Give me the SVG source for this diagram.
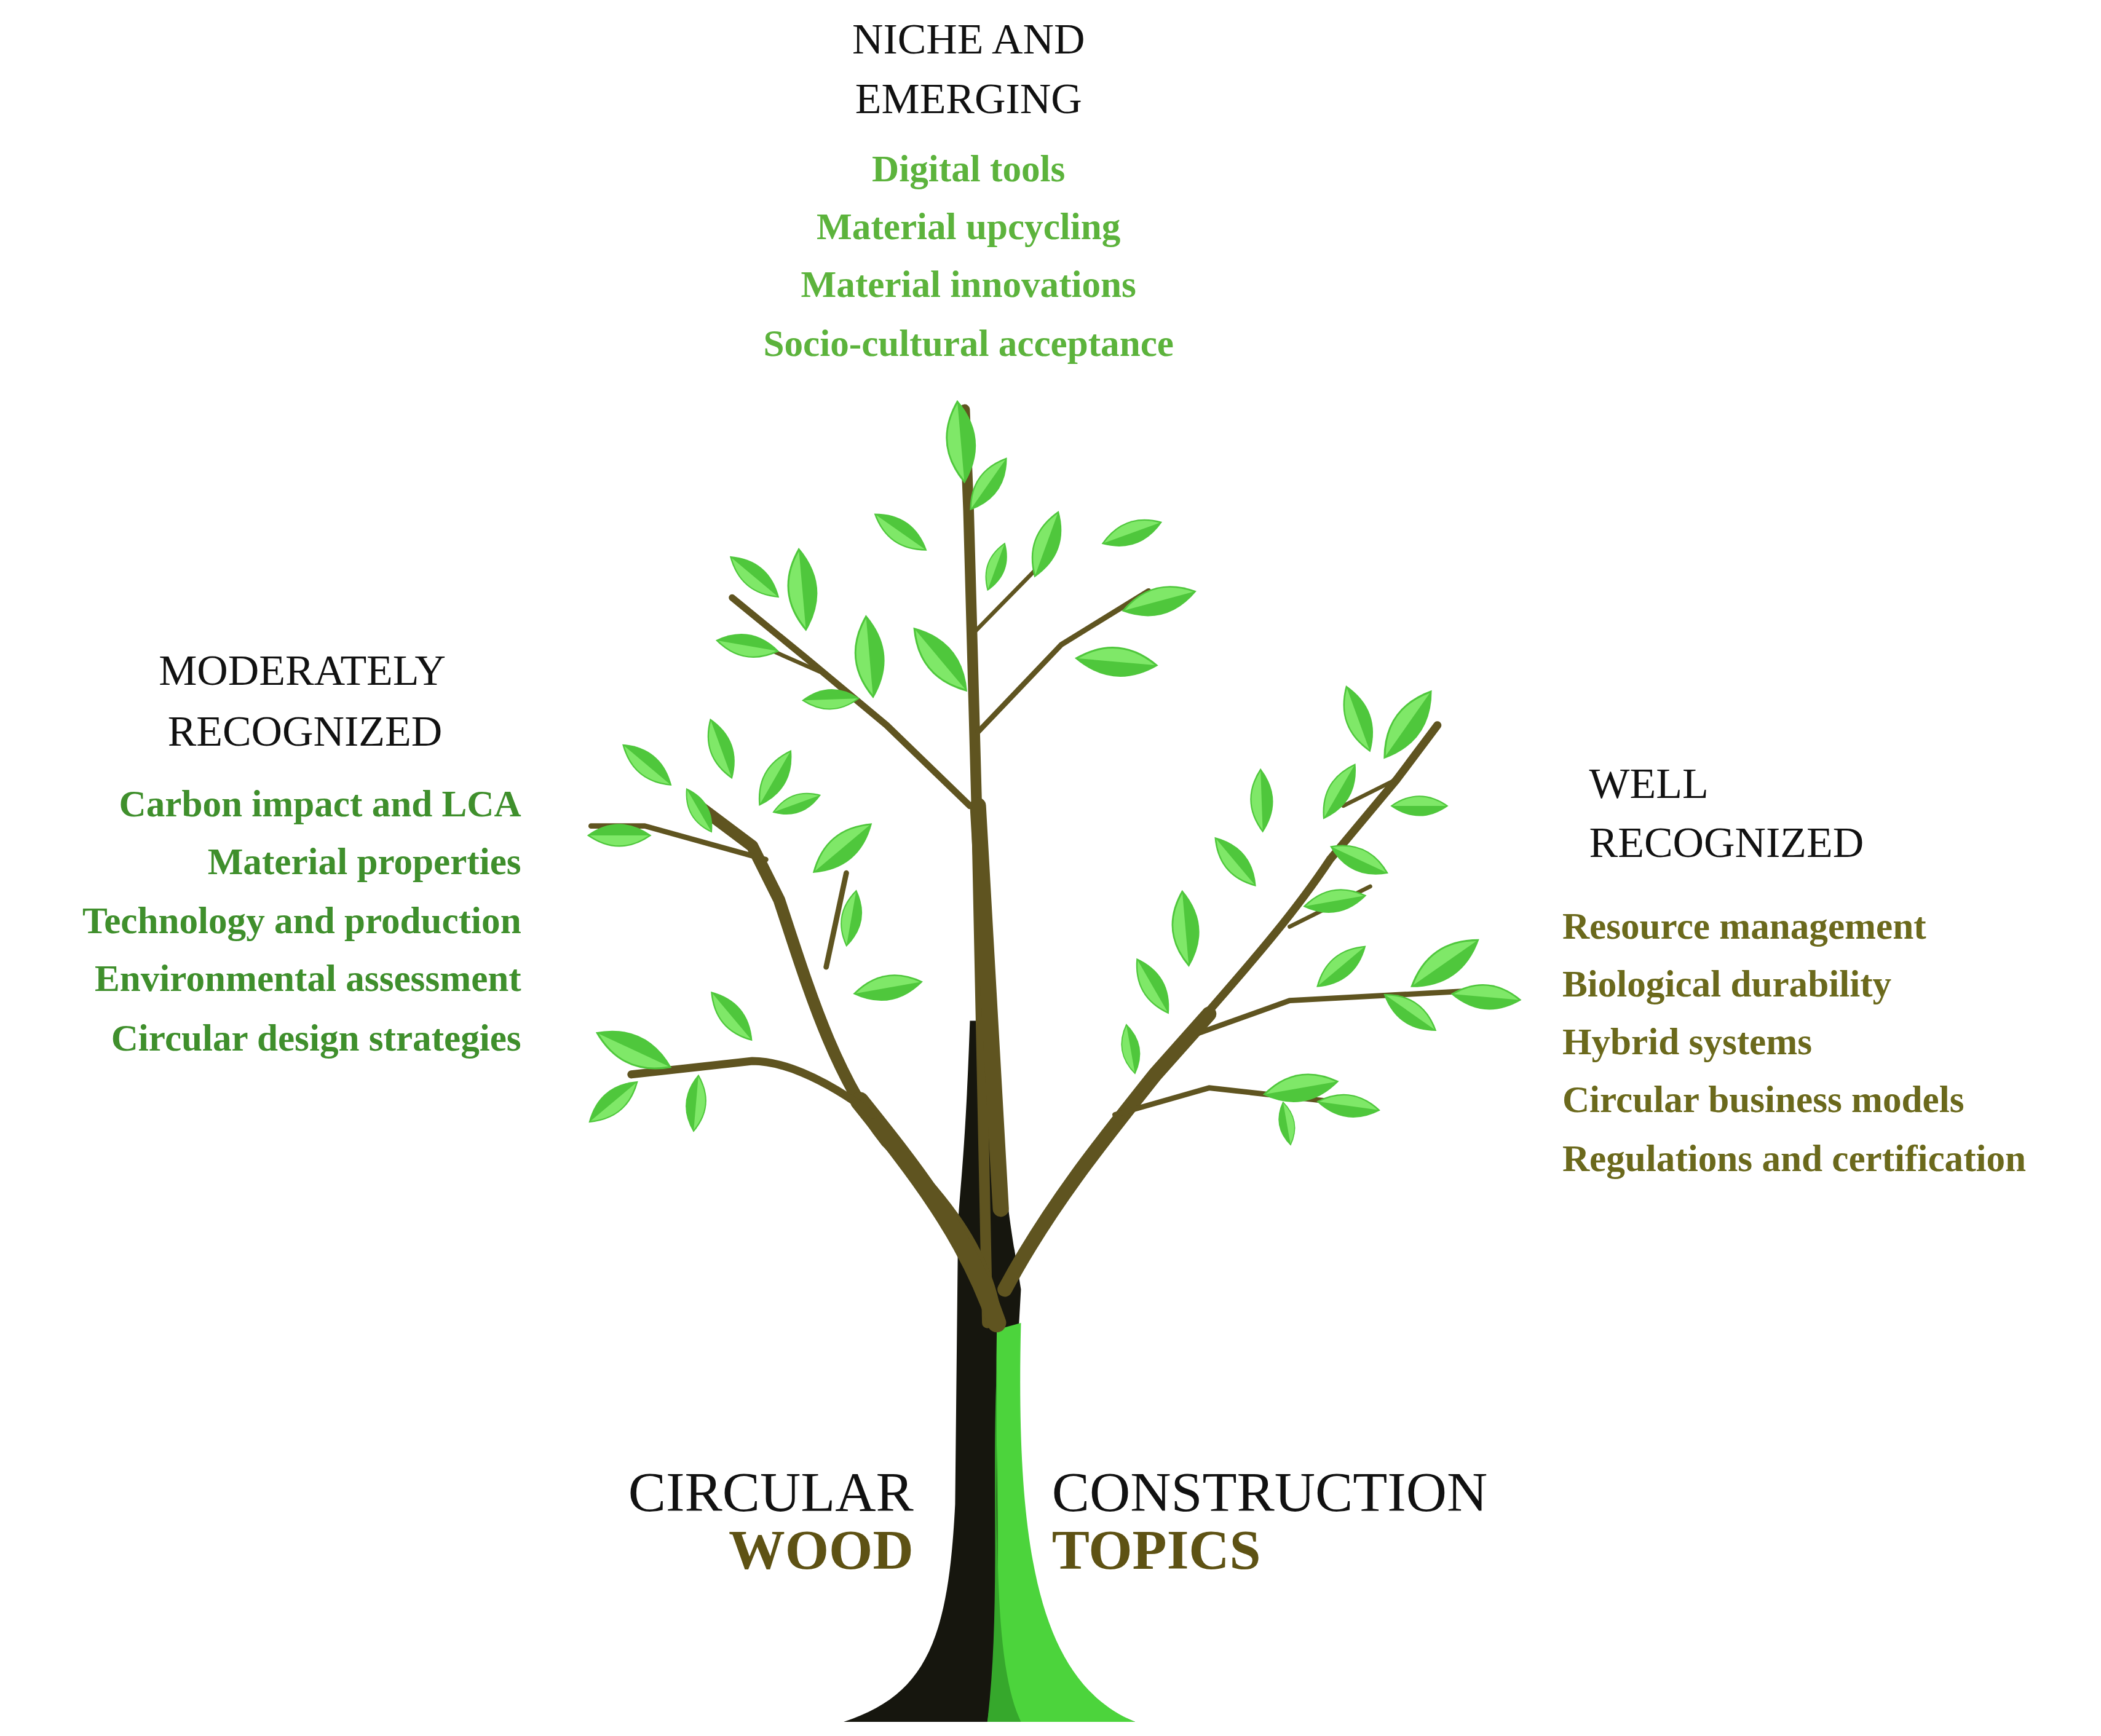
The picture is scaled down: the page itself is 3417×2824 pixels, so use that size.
<svg xmlns="http://www.w3.org/2000/svg" width="3417" height="2824" viewBox="0 0 3417 2824">
<style>
.h{font-family:"Liberation Serif",serif;font-size:32px;fill:#111}
.g1{font-family:"Liberation Serif",serif;font-weight:bold;font-size:28px;fill:#5cb33c}
.g2{font-family:"Liberation Serif",serif;font-weight:bold;font-size:28px;fill:#3f8f2c}
.g3{font-family:"Liberation Serif",serif;font-weight:bold;font-size:28px;fill:#6b691c}
.big{font-family:"Liberation Serif",serif;font-size:42px;fill:#111}
.bigb{font-family:"Liberation Serif",serif;font-weight:bold;font-size:42px;fill:#5e5214}
.br{fill:none;stroke:#5f5420;stroke-linecap:round;stroke-linejoin:round}
</style>
<defs>
<g id="leaf"><path d="M0,0 Q24,-17 48,0 Q24,17 0,0Z" fill="#4fc73c"/><path d="M2,0 Q24,-15 46,0 Z" fill="#7fe868"/></g>
</defs>
<rect width="3417" height="2824" fill="#fff"/>
<g transform="scale(2.1848)">
<g id="tree">
<path d="M628,1282 C690,1262 706,1220 711,1120 L713,930 C712,900 718,880 722,760 L742,760 C745,880 752,910 760,960 L752,1100 C755,1200 790,1262 845,1282 Z" fill="#16160e"/>
<path d="M742,990 L760,985 C756,1150 772,1252 845,1282 L735,1282 C748,1200 740,1100 742,990Z" fill="#4cd43c"/>
<path d="M742,1020 C742,1150 740,1240 760,1282 L735,1282 C745,1200 738,1100 742,1020Z" fill="#36a82c"/>
<path class="br" d="M735,985 L727,600 L721,380 L718,305" stroke-width="8"/>
<path class="br" d="M745,900 L728,600" stroke-width="12"/>
<path class="br" d="M742,985 C735,930 700,890 660,850 C620,800 600,730 580,670 L560,630 L520,600" stroke-width="9"/>
<path class="br" d="M742,985 C720,920 680,870 640,820" stroke-width="14"/>
<path class="br" d="M650,830 C610,800 580,790 560,790 L470,800" stroke-width="6"/>
<path class="br" d="M570,640 L480,615 L440,615" stroke-width="4"/>
<path class="br" d="M615,720 L630,650" stroke-width="4"/>
<path class="br" d="M722,600 L660,540 L600,490 L545,445" stroke-width="5"/>
<path class="br" d="M610,500 L560,478" stroke-width="3"/>
<path class="br" d="M728,545 L790,480 L855,440" stroke-width="4"/>
<path class="br" d="M726,470 L775,420" stroke-width="3"/>
<path class="br" d="M748,960 C780,900 820,850 860,800 C900,750 950,700 990,640 L1040,580 L1070,540" stroke-width="6"/>
<path class="br" d="M748,960 C780,900 820,850 860,800 L900,755" stroke-width="11"/>
<path class="br" d="M890,770 L960,745 L1090,738" stroke-width="4"/>
<path class="br" d="M830,830 L900,810 L990,820" stroke-width="4"/>
<path class="br" d="M960,690 L1020,660" stroke-width="3"/>
<path class="br" d="M1040,580 L1000,600" stroke-width="3"/>
<use href="#leaf" transform="translate(718,360) rotate(-95) scale(1.3)"/>
<use href="#leaf" transform="translate(722,380) rotate(-55)"/>
<use href="#leaf" transform="translate(690,410) rotate(-145)"/>
<use href="#leaf" transform="translate(770,430) rotate(-70) scale(1.1)"/>
<use href="#leaf" transform="translate(820,405) rotate(-20)"/>
<use href="#leaf" transform="translate(835,455) rotate(-15) scale(1.2)"/>
<use href="#leaf" transform="translate(800,490) rotate(5) scale(1.3)"/>
<use href="#leaf" transform="translate(720,515) rotate(-130) scale(1.3)"/>
<use href="#leaf" transform="translate(735,440) rotate(-70) scale(0.8)"/>
<use href="#leaf" transform="translate(650,520) rotate(-95) scale(1.3)"/>
<use href="#leaf" transform="translate(600,470) rotate(-95) scale(1.3)"/>
<use href="#leaf" transform="translate(580,445) rotate(-140)"/>
<use href="#leaf" transform="translate(580,485) rotate(-170)"/>
<use href="#leaf" transform="translate(640,520) rotate(178) scale(0.9)"/>
<use href="#leaf" transform="translate(500,585) rotate(-140)"/>
<use href="#leaf" transform="translate(545,580) rotate(-110)"/>
<use href="#leaf" transform="translate(565,600) rotate(-60)"/>
<use href="#leaf" transform="translate(575,605) rotate(-20) scale(0.8)"/>
<use href="#leaf" transform="translate(530,620) rotate(-120) scale(0.8)"/>
<use href="#leaf" transform="translate(485,622) rotate(180)"/>
<use href="#leaf" transform="translate(605,650) rotate(-40) scale(1.2)"/>
<use href="#leaf" transform="translate(630,705) rotate(-80) scale(0.9)"/>
<use href="#leaf" transform="translate(635,740) rotate(-10) scale(1.1)"/>
<use href="#leaf" transform="translate(560,775) rotate(-130)"/>
<use href="#leaf" transform="translate(500,795) rotate(-155) scale(1.3)"/>
<use href="#leaf" transform="translate(475,805) rotate(140)"/>
<use href="#leaf" transform="translate(520,800) rotate(95) scale(0.9)"/>
<use href="#leaf" transform="translate(1020,560) rotate(-110) scale(1.1)"/>
<use href="#leaf" transform="translate(1030,565) rotate(-55) scale(1.3)"/>
<use href="#leaf" transform="translate(1035,600) rotate(0) scale(0.9)"/>
<use href="#leaf" transform="translate(985,610) rotate(-60)"/>
<use href="#leaf" transform="translate(940,620) rotate(-92)"/>
<use href="#leaf" transform="translate(935,660) rotate(-130)"/>
<use href="#leaf" transform="translate(990,630) rotate(25)"/>
<use href="#leaf" transform="translate(970,675) rotate(-10)"/>
<use href="#leaf" transform="translate(980,735) rotate(-40)"/>
<use href="#leaf" transform="translate(1050,735) rotate(-35) scale(1.3)"/>
<use href="#leaf" transform="translate(1080,740) rotate(5) scale(1.1)"/>
<use href="#leaf" transform="translate(1030,740) rotate(35)"/>
<use href="#leaf" transform="translate(885,720) rotate(-95) scale(1.2)"/>
<use href="#leaf" transform="translate(870,755) rotate(-120)"/>
<use href="#leaf" transform="translate(845,800) rotate(-100) scale(0.8)"/>
<use href="#leaf" transform="translate(940,815) rotate(-10) scale(1.2)"/>
<use href="#leaf" transform="translate(980,820) rotate(8)"/>
<use href="#leaf" transform="translate(955,820) rotate(80) scale(0.7)"/>
</g>
<g id="niche" text-anchor="middle">
<text class="h" x="721" y="40">NICHE AND</text>
<text class="h" x="721" y="84">EMERGING</text>
<text class="g1" x="721" y="135">Digital tools</text>
<text class="g1" x="721" y="178">Material upcycling</text>
<text class="g1" x="721" y="221">Material innovations</text>
<text class="g1" x="721" y="265">Socio-cultural acceptance</text>
</g>
<g id="moderate">
<text class="h" x="225" y="510" text-anchor="middle">MODERATELY</text>
<text class="h" x="227" y="555" text-anchor="middle">RECOGNIZED</text>
<g text-anchor="end">
<text class="g2" x="388" y="608">Carbon impact and LCA</text>
<text class="g2" x="388" y="651">Material properties</text>
<text class="g2" x="388" y="695">Technology and production</text>
<text class="g2" x="388" y="738">Environmental assessment</text>
<text class="g2" x="388" y="782">Circular design strategies</text>
</g>
</g>
<g id="well">
<text class="h" x="1183" y="594">WELL</text>
<text class="h" x="1183" y="638">RECOGNIZED</text>
<text class="g3" x="1163" y="699">Resource management</text>
<text class="g3" x="1163" y="742">Biological durability</text>
<text class="g3" x="1163" y="785">Hybrid systems</text>
<text class="g3" x="1163" y="828">Circular business models</text>
<text class="g3" x="1163" y="872">Regulations and certification</text>
</g>
<g id="title">
<text class="big" x="680" y="1125" text-anchor="end">CIRCULAR</text>
<text class="bigb" x="680" y="1168" text-anchor="end">WOOD</text>
<text class="big" x="783" y="1125">CONSTRUCTION</text>
<text class="bigb" x="783" y="1168">TOPICS</text>
</g>
</g>
</svg>
